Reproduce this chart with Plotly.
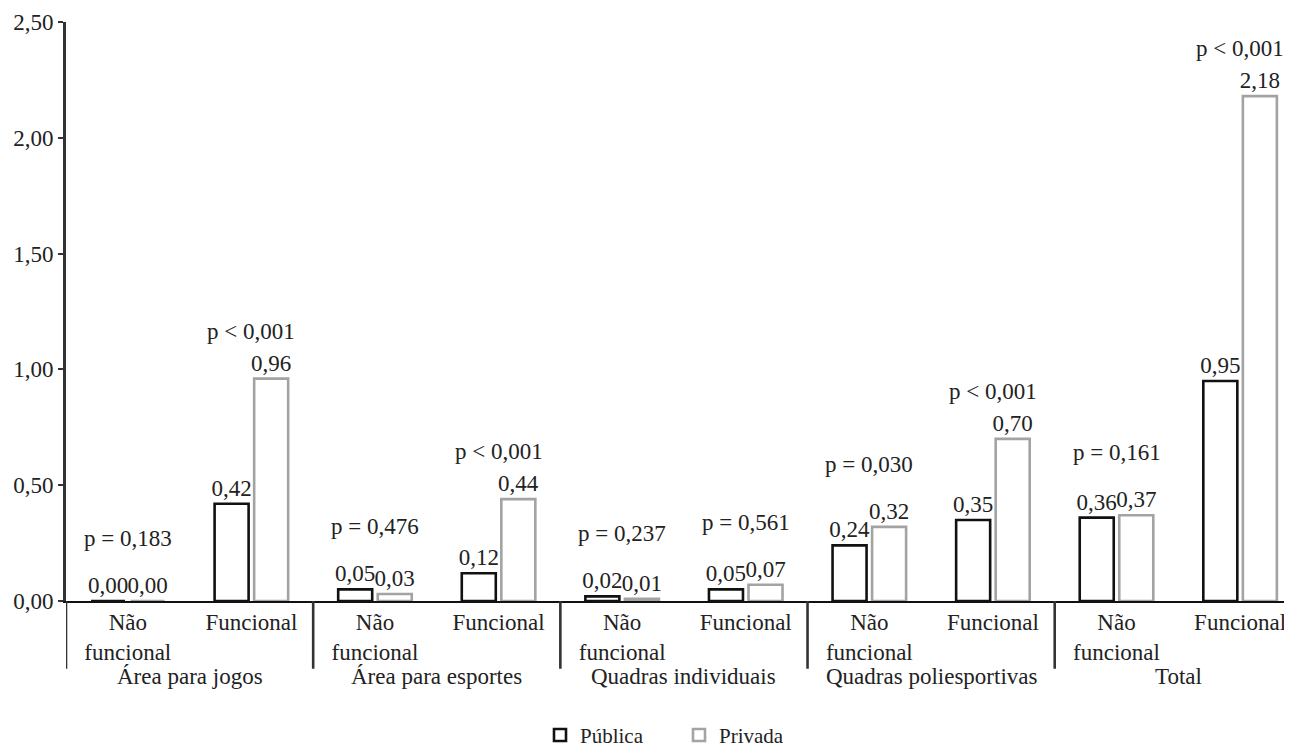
import plotly.graph_objects as go

# ---- data ----
groups = ["Área para jogos", "Área para esportes", "Quadras individuais",
          "Quadras poliesportivas", "Total"]
conditions = ["Não<br>funcional", "Funcional"]
publica = [0.00, 0.42, 0.05, 0.12, 0.02, 0.05, 0.24, 0.35, 0.36, 0.95]
privada = [0.00, 0.96, 0.03, 0.44, 0.01, 0.07, 0.32, 0.70, 0.37, 2.18]
p_values = ["p = 0,183", "p < 0,001", "p = 0,476", "p < 0,001", "p = 0,237",
            "p = 0,561", "p = 0,030", "p < 0,001", "p = 0,161", "p < 0,001"]
y_ticks = [0, 0.5, 1.0, 1.5, 2.0, 2.5]

FONT = "'Liberation Serif', 'Times New Roman', Times, serif"
FS = 23

keys = [f"{g}|{c}" for g in groups for c in conditions]
ticktext = [c for g in groups for c in conditions]

fig = go.Figure()
fig.add_trace(go.Bar(
    name="Pública", x=keys, y=publica,
    marker=dict(color="white", line=dict(color="#111111", width=2.6)),
    texttemplate="%{y:.2f}", textposition="outside", constraintext="none",
    cliponaxis=False, textfont=dict(family=FONT, size=FS, color="#222"),
))
fig.add_trace(go.Bar(
    name="Privada", x=keys, y=privada,
    marker=dict(color="white", line=dict(color="#a3a3a3", width=2.6)),
    texttemplate="%{y:.2f}", textposition="outside", constraintext="none",
    cliponaxis=False, textfont=dict(family=FONT, size=FS, color="#222"),
))

annotations = []
# p-value labels above each pair
for i, p in enumerate(p_values):
    top = max(publica[i], privada[i])
    annotations.append(dict(
        x=i, y=top, xref="x", yref="y", text=p, showarrow=False,
        yanchor="bottom", yshift=(33 if "<" in p else 48),
        font=dict(family=FONT, size=FS, color="#222"),
    ))

# group labels and dividers
n_sub = len(conditions)
shapes = []
for gi, g in enumerate(groups):
    start = gi * n_sub
    center = start + (n_sub - 1) / 2
    annotations.append(dict(
        x=center, y=-0.13, xref="x", yref="paper", text=g, showarrow=False,
        yanchor="middle", font=dict(family=FONT, size=FS, color="#222"),
    ))
    shapes.append(dict(
        type="line", xref="x", yref="paper", x0=start - 0.5, x1=start - 0.5,
        y0=0, y1=-0.117, line=dict(color="#333333", width=2.6),
    ))

# page body has an 8px margin, so the figure is sized/offset to compensate
fig.update_layout(
    width=1284, height=742,
    margin=dict(l=58, r=0, t=14, b=149, autoexpand=False),
    paper_bgcolor="white", plot_bgcolor="white",
    separators=",.",
    font=dict(family=FONT, size=FS, color="#222"),
    barmode="group", bargap=0.36, bargroupgap=0.14,
    showlegend=True,
    legend=dict(orientation="h", x=0.5, xanchor="center", y=-0.232,
                yanchor="middle", font=dict(family=FONT, size=21, color="#222"),
                traceorder="normal", entrywidth=94, entrywidthmode="pixels"),
    annotations=annotations, shapes=shapes,
)
fig.update_xaxes(
    type="category", categoryorder="array", categoryarray=keys,
    tickvals=keys, ticktext=ticktext, ticks="", showgrid=False,
    showline=True, linecolor="#111111", linewidth=1.6, automargin=False,
    range=[-0.5, len(keys) - 0.58], tickfont=dict(family=FONT, size=FS),
)
fig.update_yaxes(
    range=[0, 2.5], tickvals=y_ticks, tickformat=".2f", ticks="outside",
    ticklen=5, tickwidth=2, tickcolor="#333333", showline=True,
    linecolor="#333333", linewidth=2.6, showgrid=False, zeroline=False,
    automargin=False, tickfont=dict(family=FONT, size=FS),
)

fig.write_html("out.html")
